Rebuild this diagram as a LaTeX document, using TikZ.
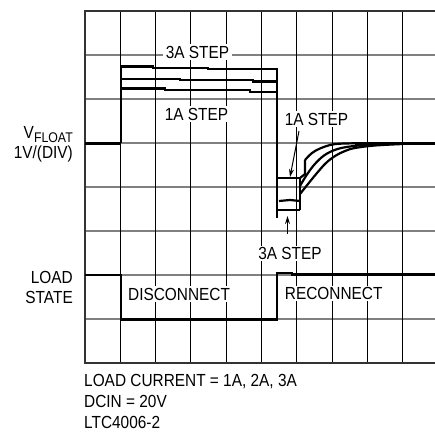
\documentclass[tikz,border=0pt]{standalone}
\usepackage{fontspec}
\setmainfont[FakeStretch=0.88]{Liberation Sans}
\usetikzlibrary{arrows.meta}
\begin{document}
\begin{tikzpicture}[x=1pt,y=-1pt,
  hgrid/.style={draw=black!50, line width=1.6pt},
  vgrid/.style={draw=black, line width=1.1pt},
  frame/.style={draw=black!80, line width=2.2pt},
  trace/.style={draw=black, line width=2.2pt, line join=miter},
  thicktrace/.style={trace, line width=3pt},
  lbl/.style={font=\fontsize{17.5}{20}\selectfont, inner sep=0pt},
  wlbl/.style={lbl, fill=white, inner xsep=3pt, inner ysep=1.5pt},
  arr/.style={draw=black, line width=1pt, -{Stealth[length=8pt,width=5pt]}}]
\useasboundingbox (0,0) rectangle (435,431);
% grid
\foreach \j in {1,...,7} \draw[hgrid] (85,11+44*\j) -- (435,11+44*\j);
\foreach \i in {1,...,9} \draw[vgrid] (85+35.3*\i,11) -- (85+35.3*\i,363);
\draw[frame] (435,11) -- (85,11) -- (85,363) -- (435,363);
% labels inside the plot (white background)
\node[wlbl, anchor=base] (l3a) at (197.5,58) {3A STEP};
\node[wlbl, anchor=base] (l1a) at (196.5,120) {1A STEP};
\node[wlbl, anchor=base] (r1a) at (316.5,125) {1A STEP};
\node[wlbl, anchor=base] (r3a) at (290,259.3) {3A STEP};
\node[wlbl, anchor=base west] (disc) at (125,300) {DISCONNECT};
\node[wlbl, anchor=base west] (reco) at (281.7,299.3) {RECONNECT};
% VFLOAT traces
\draw[thicktrace] (85,143) -- (121,143);
\draw[trace] (121,143) -- (121,66.5) -- (153,66.5) -- (153,67.7) -- (208,67.7) -- (208,69) -- (277,69) -- (277,218);
\draw[trace] (121,79) -- (180,79) -- (180,80.3) -- (253,80.3) -- (253,81.5) -- (277,81.5);
\draw[trace] (121,88.5) -- (165,88.5) -- (165,90) -- (250,90) -- (250,91.7) -- (277,91.7);
\draw[trace] (277,178) -- (300,178);
\draw[trace] (279,201) -- (290,200) -- (300,201);
\draw[trace] (277,210) -- (300,210);
\draw[trace] (300,178) -- (300,210);
\draw[trace] (300,178) -- (305,174) -- (305,160);
\draw[trace] plot[smooth, tension=0.6] coordinates {(305,160) (312,153) (320,148.5) (330,145) (340,143.7) (360,143.2)};
\draw[trace] plot[smooth, tension=0.6] coordinates {(300,186) (306,176) (314,165) (324,155.5) (336,149.5) (350,146.5) (370,144.5) (395,143.5)};
\draw[trace] plot[smooth, tension=0.6] coordinates {(300,194) (308,184) (317,173) (326,163) (335,156) (345,151) (355,148) (375,145.5) (403,144)};
\draw[thicktrace] (355,143.3) -- (435,143.3);
% load state
\draw[trace] (85,275) -- (120.7,275) -- (120.7,319.5) -- (276.7,319.5) -- (276.7,273) -- (292,273) -- (292,274.5) -- (435,274.5);
% arrows
\coordinate (a1s) at (299,131);
\coordinate (a1e) at (290,177);
\coordinate (a3s) at (287.5,234);
\coordinate (a3e) at (287.5,216);
\draw[arr] (a1s) -- (a1e);
\draw[arr] (a3s) -- (a3e);
% axis labels
\node[lbl, anchor=base east] (vf) at (73,138) {V\raisebox{-4pt}{\fontsize{14}{14}\selectfont FLOAT}};
\node[lbl, anchor=base east] (vdiv) at (73,158.3) {1V/(DIV)};
\node[lbl, anchor=base east] (load) at (73,283.3) {LOAD};
\node[lbl, anchor=base east] (state) at (73,303.3) {STATE};
% notes
\node[lbl, anchor=base west] (n1) at (84,386.5) {LOAD CURRENT = 1A, 2A, 3A};
\node[lbl, anchor=base west] (n2) at (84,407.5) {DCIN = 20V};
\node[lbl, anchor=base west] (n3) at (84,428.5) {LTC4006-2};
\end{tikzpicture}
\end{document}
